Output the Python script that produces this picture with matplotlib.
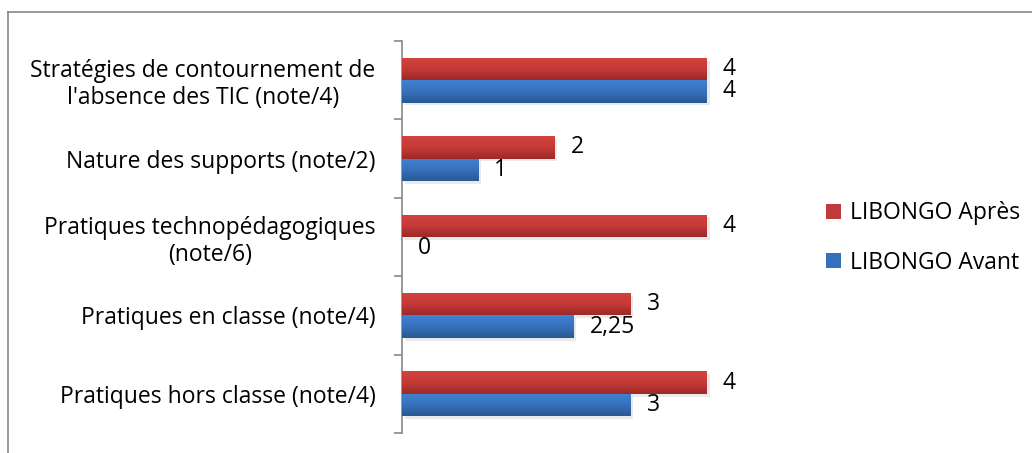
import numpy as np
import matplotlib
matplotlib.use("Agg")
import matplotlib.pyplot as plt
import matplotlib.patheffects as pe
from matplotlib.colors import LinearSegmentedColormap
from matplotlib.lines import Line2D
from matplotlib.patches import Patch

categories = ["Stratégies de contournement de\nl'absence des TIC (note/4)",
              "Nature des supports (note/2)",
              "Pratiques technopédagogiques\n(note/6)",
              "Pratiques en classe (note/4)",
              "Pratiques hors classe (note/4)"]
apres = [4, 2, 4, 3, 4]
avant = [4, 1, 0, 2.25, 3]
series_names = ["LIBONGO Après", "LIBONGO Avant"]

plt.rcParams['font.family'] = ['Open Sans', 'DejaVu Sans']
FS = 16.5

fig = plt.figure(figsize=(10.32, 4.53), dpi=100)
ax = fig.add_axes([402/1032, 20/453, 343/1032, 392/453])

red_cm = LinearSegmentedColormap.from_list("r", ["#d3433f", "#c53a37", "#9c2a28"])
blue_cm = LinearSegmentedColormap.from_list("b", ["#3f82d2", "#3771bd", "#2a5893"])
grad = np.linspace(0, 1, 64).reshape(-1, 1)

y = np.arange(len(categories))
h = 0.2857
shadow = [pe.SimplePatchShadow(offset=(2, -2), shadow_rgbFace='#aaaaaa', alpha=0.25), pe.Normal()]
b1 = ax.barh(y - h/2, apres, height=h, color="#c0393b", zorder=2, path_effects=shadow)
b2 = ax.barh(y + h/2, avant, height=h, color="#3570bb", zorder=2, path_effects=shadow)

# gradient fill on each bar
for bars, cm in [(b1, red_cm), (b2, blue_cm)]:
    for p in bars:
        if p.get_width() <= 0:
            continue
        x0, y0 = p.get_x(), p.get_y()
        im = ax.imshow(grad, cmap=cm, aspect='auto', zorder=3,
                       extent=[x0, x0 + p.get_width(), y0 + p.get_height(), y0])
        im.set_clip_path(p)

def fmt(v):
    s = ("%g" % v).replace(".", ",")
    return s

for bars, vals in [(b1, apres), (b2, avant)]:
    for p, v in zip(bars, vals):
        ax.annotate(fmt(v), (p.get_width(), p.get_y() + p.get_height()/2),
                    xytext=(16, 0), textcoords="offset pixels",
                    ha='left', va='center', fontsize=FS, color='black')

ax.set_xlim(0, 4.5)
ax.set_ylim(len(categories) - 0.5, -0.5)
ax.set_yticks(y)
ax.set_yticklabels(categories, fontsize=FS)
for lab in ax.get_yticklabels():
    lab.set_multialignment('center')
    lab.set_linespacing(1.18)
ax.set_yticks(np.arange(-0.5, len(categories)), minor=True)
ax.tick_params(axis='y', which='major', length=0, pad=19)
ax.tick_params(axis='y', which='minor', length=6, width=1.2, color='#888888', direction='out')
ax.set_xticks([])
for s in ['top', 'right', 'bottom']:
    ax.spines[s].set_visible(False)
ax.spines['left'].set_color('#888888')
ax.spines['left'].set_linewidth(1.2)

handles = [Patch(facecolor="#c0393b", edgecolor='none'),
           Patch(facecolor="#3570bb", edgecolor='none')]
fig.legend(handles, series_names, loc='center left', bbox_to_anchor=(805/1032, 1 - 238/453),
           frameon=False, fontsize=FS, handlelength=0.65, handleheight=0.65,
           handletextpad=0.4, labelspacing=1.1)

# outer chart border
fig.add_artist(Line2D([8/1032, 1], [1 - 12/453, 1 - 12/453], color='#888888', lw=1.2))
fig.add_artist(Line2D([8/1032, 8/1032], [0, 1 - 12/453], color='#888888', lw=1.2))

fig.savefig("out.png", dpi=100)
